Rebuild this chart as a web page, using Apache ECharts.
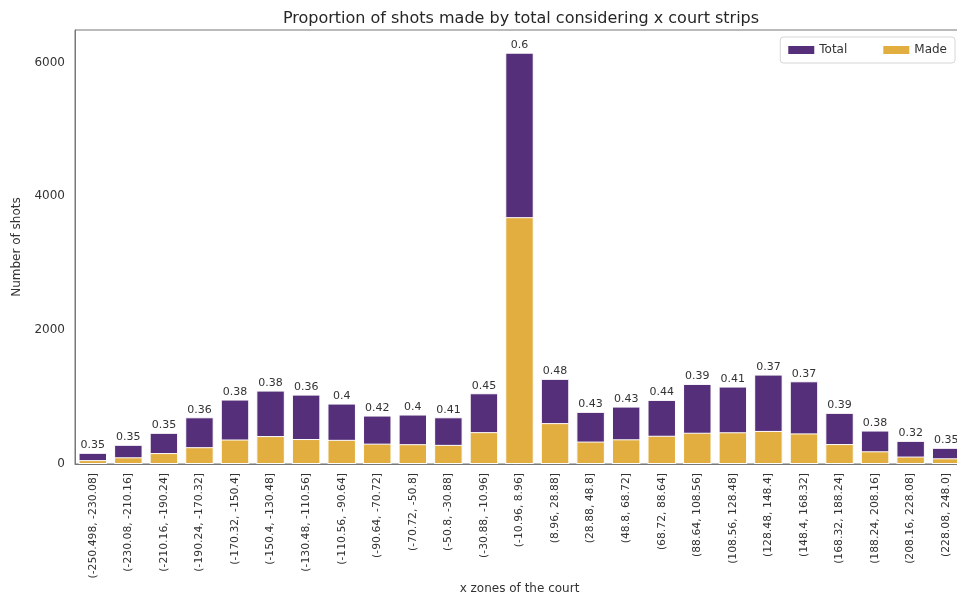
<!DOCTYPE html>
<html>
<head>
<meta charset="utf-8">
<script src="https://cdn.jsdelivr.net/npm/echarts@6/dist/echarts.min.js"></script>
<style>
  html, body { margin: 0; padding: 0; background: #fff; overflow: hidden; }
  #chart { width: 957px; height: 595px; }
</style>
</head>
<body>
<div id="chart"></div>
<script>
// x strips of the court (bins of the shot x coordinate)
const zones = [
  '(-250.498, -230.08]', '(-230.08, -210.16]', '(-210.16, -190.24]', '(-190.24, -170.32]',
  '(-170.32, -150.4]', '(-150.4, -130.48]', '(-130.48, -110.56]', '(-110.56, -90.64]',
  '(-90.64, -70.72]', '(-70.72, -50.8]', '(-50.8, -30.88]', '(-30.88, -10.96]',
  '(-10.96, 8.96]', '(8.96, 28.88]', '(28.88, 48.8]', '(48.8, 68.72]',
  '(68.72, 88.64]', '(88.64, 108.56]', '(108.56, 128.48]', '(128.48, 148.4]',
  '(148.4, 168.32]', '(168.32, 188.24]', '(188.24, 208.16]', '(208.16, 228.08]',
  '(228.08, 248.0]'
];

// shots attempted per strip
const totalShots = [
  167, 287, 466, 698, 963, 1097, 1037, 903, 724, 739, 698, 1057,
  6146, 1272, 779, 858, 958, 1197, 1157, 1336, 1236, 764, 500, 346, 242
];

// shots made per strip
const madeShots = [
  58, 100, 163, 251, 366, 417, 373, 361, 304, 296, 286, 476,
  3688, 611, 335, 369, 422, 467, 474, 494, 457, 298, 190, 111, 85
];

const yTicks = [0, 2000, 4000, 6000];

const PURPLE = '#552f7a';
const GOLD = '#e2ae40';
const FONT = 'DejaVu Sans';

// made / total, rounded to two decimals, shown above each bar
const ratioLabel = i => String(parseFloat((madeShots[i] / totalShots[i]).toFixed(2)));

const chart = echarts.init(document.getElementById('chart'), null, { renderer: 'canvas' });

chart.setOption({
  animation: false,
  backgroundColor: '#fff',
  textStyle: { fontFamily: FONT },
  title: {
    text: 'Proportion of shots made by total considering x court strips',
    left: 516,
    textAlign: 'center',
    top: 6,
    textStyle: { fontFamily: FONT, fontSize: 16, fontWeight: 'normal', color: '#262626' }
  },
  legend: {
    right: 2,
    top: 37,
    orient: 'horizontal',
    itemWidth: 26,
    itemHeight: 8,
    itemGap: 36,
    padding: [7, 8, 7, 8],
    borderColor: '#d6d6d6',
    borderWidth: 1,
    borderRadius: 3,
    backgroundColor: '#fff',
    textStyle: { fontFamily: FONT, fontSize: 12, color: '#333' },
    data: [
      { name: 'Total', icon: 'rect', itemStyle: { color: PURPLE, borderWidth: 0 } },
      { name: 'Made', icon: 'rect', itemStyle: { color: GOLD, borderWidth: 0 } }
    ]
  },
  grid: {
    left: 75,
    right: -7,
    top: 30,
    bottom: 131,
    show: true,
    borderColor: '#777',
    borderWidth: 1,
    containLabel: false,
    outerBoundsMode: 'none'
  },
  xAxis: {
    type: 'category',
    data: zones,
    name: 'x zones of the court',
    nameLocation: 'middle',
    nameGap: 125,
    nameMoveOverlap: false,
    nameTextStyle: { fontFamily: FONT, fontSize: 12, color: '#333', verticalAlign: 'middle' },
    axisLine: { show: true, lineStyle: { color: '#777', width: 1 } },
    axisTick: { show: false },
    axisLabel: {
      rotate: 90,
      interval: 0,
      margin: 9,
      fontFamily: FONT,
      fontSize: 10.8,
      color: '#333'
    }
  },
  yAxis: {
    type: 'value',
    min: 0,
    max: 6485,
    interval: 2000,
    name: 'Number of shots',
    nameLocation: 'middle',
    nameGap: 52,
    nameTextStyle: { fontFamily: FONT, fontSize: 12, color: '#333' },
    axisLine: { show: true, lineStyle: { color: '#777', width: 1 } },
    axisTick: { show: false },
    splitLine: { show: false },
    axisLabel: {
      margin: 10,
      fontFamily: FONT,
      fontSize: 12,
      color: '#333',
      formatter: v => (yTicks.indexOf(v) >= 0 ? String(v) : '')
    }
  },
  series: [
    {
      name: 'Total',
      type: 'bar',
      data: totalShots,
      barWidth: '80%',
      barGap: '-100%',
      itemStyle: { color: PURPLE, borderColor: '#fff', borderWidth: 1 },
      label: {
        show: true,
        position: 'top',
        distance: 2,
        fontFamily: FONT,
        fontSize: 11,
        color: '#333',
        formatter: p => ratioLabel(p.dataIndex)
      },
      z: 2
    },
    {
      name: 'Made',
      type: 'bar',
      data: madeShots,
      barWidth: '80%',
      barGap: '-100%',
      itemStyle: { color: GOLD, borderColor: '#fff', borderWidth: 1 },
      z: 3
    }
  ]
});
</script>
</body>
</html>
